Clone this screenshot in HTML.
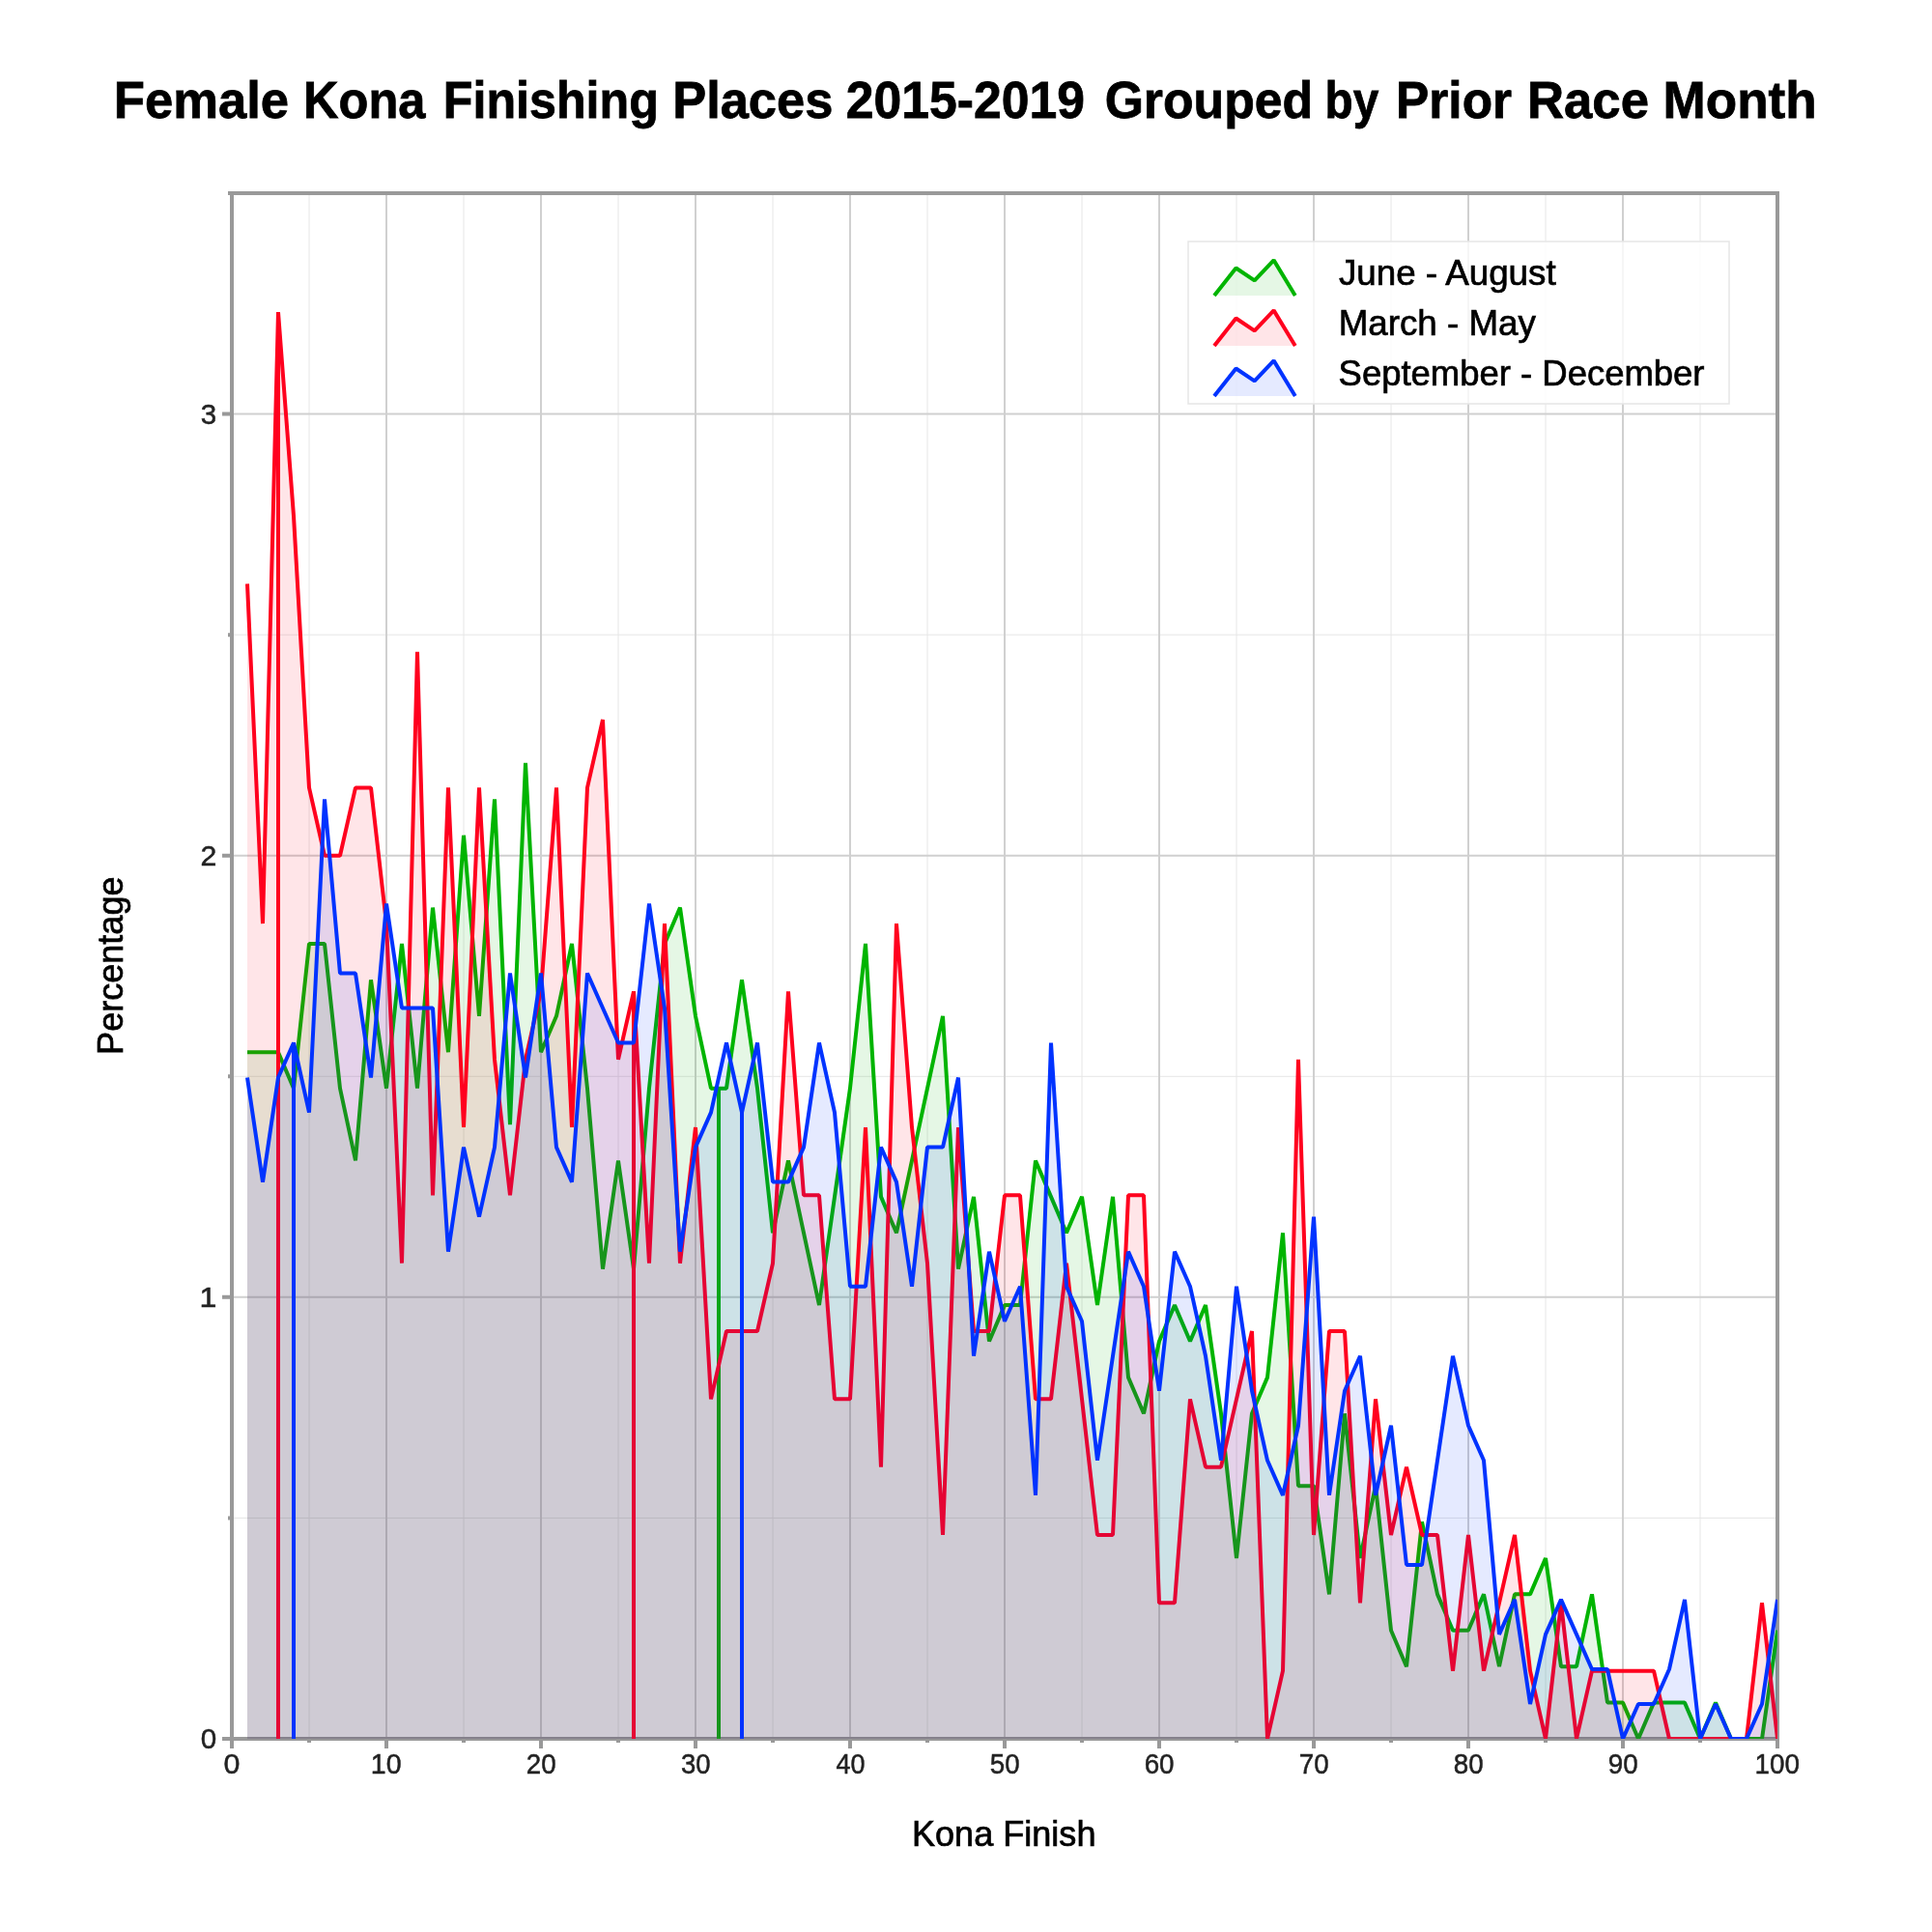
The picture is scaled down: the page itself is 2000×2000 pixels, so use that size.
<!DOCTYPE html>
<html><head><meta charset="utf-8"><title>Female Kona Finishing Places</title>
<style>
html,body{margin:0;padding:0;background:#fff;}
body{width:2000px;height:2000px;overflow:hidden;}
svg{display:block;will-change:transform;}
text{font-family:"Liberation Sans",sans-serif;}
</style></head><body>
<svg xmlns="http://www.w3.org/2000/svg" width="2000" height="2000" viewBox="0 0 2000 2000">
<rect x="0" y="0" width="2000" height="2000" fill="#ffffff"/>
<defs><clipPath id="plot"><rect x="240" y="200" width="1600" height="1600"/></clipPath></defs>

<path d="M320 200V1800M480 200V1800M640 200V1800M800 200V1800M960 200V1800M1120 200V1800M1280 200V1800M1440 200V1800M1600 200V1800M1760 200V1800M240 1571.43H1840M240 1114.29H1840M240 657.14H1840" stroke="#e6e6e6" stroke-width="1" fill="none"/>
<path d="M400 200V1800M560 200V1800M720 200V1800M880 200V1800M1040 200V1800M1200 200V1800M1360 200V1800M1520 200V1800M1680 200V1800M240 1342.86H1840M240 885.71H1840M240 428.57H1840" stroke="#d0d0d0" stroke-width="2" fill="none"/>
<path d="M236 200H1842M240 198V1810M1840 198V1810M230 1800H1842" stroke="#999999" stroke-width="4" fill="none"/>
<path d="M400 1800V1810M560 1800V1810M720 1800V1810M880 1800V1810M1040 1800V1810M1200 1800V1810M1360 1800V1810M1520 1800V1810M1680 1800V1810M230 1342.86H240M230 885.71H240M230 428.57H240" stroke="#999999" stroke-width="4" fill="none"/>
<path d="M320 1800V1804M480 1800V1804M640 1800V1804M800 1800V1804M960 1800V1804M1120 1800V1804M1280 1800V1804M1440 1800V1804M1600 1800V1804M1760 1800V1804M236 1571.43H240M236 1114.29H240M236 657.14H240" stroke="#999999" stroke-width="4" fill="none"/>
<g clip-path="url(#plot)">
<path d="M256 1800 L256 1089.22 L272 1089.22 L288 1089.22 L304 1126.63 L320 976.99 L336 976.99 L352 1126.63 L368 1201.45 L384 1014.4 L400 1126.63 L416 976.99 L432 1126.63 L448 939.58 L464 1089.22 L480 864.77 L496 1051.81 L512 827.36 L528 1164.04 L544 789.95 L560 1089.22 L576 1051.81 L592 976.99 L608 1126.63 L624 1313.68 L640 1201.45 L656 1313.68 L672 1126.63 L688 976.99 L704 939.58 L720 1051.81 L736 1126.63 L752 1126.63 L768 1014.4 L784 1126.63 L800 1276.27 L816 1201.45 L832 1276.27 L848 1351.09 L864 1238.86 L880 1126.63 L896 976.99 L912 1238.86 L928 1276.27 L944 1201.45 L960 1126.63 L976 1051.81 L992 1313.68 L1008 1238.86 L1024 1388.5 L1040 1351.09 L1056 1351.09 L1072 1201.45 L1088 1238.86 L1104 1276.27 L1120 1238.86 L1136 1351.09 L1152 1238.86 L1168 1425.91 L1184 1463.32 L1200 1388.5 L1216 1351.09 L1232 1388.5 L1248 1351.09 L1264 1463.32 L1280 1612.95 L1296 1463.32 L1312 1425.91 L1328 1276.27 L1344 1538.13 L1360 1538.13 L1376 1650.36 L1392 1463.32 L1408 1612.95 L1424 1538.13 L1440 1687.77 L1456 1725.18 L1472 1575.54 L1488 1650.36 L1504 1687.77 L1520 1687.77 L1536 1650.36 L1552 1725.18 L1568 1650.36 L1584 1650.36 L1600 1612.95 L1616 1725.18 L1632 1725.18 L1648 1650.36 L1664 1762.59 L1680 1762.59 L1696 1800 L1712 1762.59 L1728 1762.59 L1744 1762.59 L1760 1800 L1776 1762.59 L1792 1800 L1808 1800 L1824 1800 L1840 1687.77 L1840 1800 Z" fill="#00b400" fill-opacity="0.1" stroke="none"/>
<path d="M256 1089.22 L272 1089.22 L288 1089.22 L304 1126.63 L320 976.99 L336 976.99 L352 1126.63 L368 1201.45 L384 1014.4 L400 1126.63 L416 976.99 L432 1126.63 L448 939.58 L464 1089.22 L480 864.77 L496 1051.81 L512 827.36 L528 1164.04 L544 789.95 L560 1089.22 L576 1051.81 L592 976.99 L608 1126.63 L624 1313.68 L640 1201.45 L656 1313.68 L672 1126.63 L688 976.99 L704 939.58 L720 1051.81 L736 1126.63 L752 1126.63 L768 1014.4 L784 1126.63 L800 1276.27 L816 1201.45 L832 1276.27 L848 1351.09 L864 1238.86 L880 1126.63 L896 976.99 L912 1238.86 L928 1276.27 L944 1201.45 L960 1126.63 L976 1051.81 L992 1313.68 L1008 1238.86 L1024 1388.5 L1040 1351.09 L1056 1351.09 L1072 1201.45 L1088 1238.86 L1104 1276.27 L1120 1238.86 L1136 1351.09 L1152 1238.86 L1168 1425.91 L1184 1463.32 L1200 1388.5 L1216 1351.09 L1232 1388.5 L1248 1351.09 L1264 1463.32 L1280 1612.95 L1296 1463.32 L1312 1425.91 L1328 1276.27 L1344 1538.13 L1360 1538.13 L1376 1650.36 L1392 1463.32 L1408 1612.95 L1424 1538.13 L1440 1687.77 L1456 1725.18 L1472 1575.54 L1488 1650.36 L1504 1687.77 L1520 1687.77 L1536 1650.36 L1552 1725.18 L1568 1650.36 L1584 1650.36 L1600 1612.95 L1616 1725.18 L1632 1725.18 L1648 1650.36 L1664 1762.59 L1680 1762.59 L1696 1800 L1712 1762.59 L1728 1762.59 L1744 1762.59 L1760 1800 L1776 1762.59 L1792 1800 L1808 1800 L1824 1800 L1840 1687.77" fill="none" stroke="#00b400" stroke-width="4" stroke-linejoin="bevel"/>
<path d="M744 1126.63 V1800" fill="none" stroke="#00b400" stroke-width="4"/>
<path d="M256 1800 L256 604.4 L272 956.04 L288 323.08 L304 534.07 L320 815.38 L336 885.71 L352 885.71 L368 815.38 L384 815.38 L400 956.04 L416 1307.69 L432 674.73 L448 1237.36 L464 815.38 L480 1167.03 L496 815.38 L512 1096.7 L528 1237.36 L544 1096.7 L560 1026.37 L576 815.38 L592 1167.03 L608 815.38 L624 745.05 L640 1096.7 L656 1026.37 L672 1307.69 L688 956.04 L704 1307.69 L720 1167.03 L736 1448.35 L752 1378.02 L768 1378.02 L784 1378.02 L800 1307.69 L816 1026.37 L832 1237.36 L848 1237.36 L864 1448.35 L880 1448.35 L896 1167.03 L912 1518.68 L928 956.04 L944 1167.03 L960 1307.69 L976 1589.01 L992 1167.03 L1008 1378.02 L1024 1378.02 L1040 1237.36 L1056 1237.36 L1072 1448.35 L1088 1448.35 L1104 1307.69 L1120 1448.35 L1136 1589.01 L1152 1589.01 L1168 1237.36 L1184 1237.36 L1200 1659.34 L1216 1659.34 L1232 1448.35 L1248 1518.68 L1264 1518.68 L1280 1448.35 L1296 1378.02 L1312 1800 L1328 1729.67 L1344 1096.7 L1360 1589.01 L1376 1378.02 L1392 1378.02 L1408 1659.34 L1424 1448.35 L1440 1589.01 L1456 1518.68 L1472 1589.01 L1488 1589.01 L1504 1729.67 L1520 1589.01 L1536 1729.67 L1552 1659.34 L1568 1589.01 L1584 1729.67 L1600 1800 L1616 1659.34 L1632 1800 L1648 1729.67 L1664 1729.67 L1680 1729.67 L1696 1729.67 L1712 1729.67 L1728 1800 L1744 1800 L1760 1800 L1776 1800 L1792 1800 L1808 1800 L1824 1659.34 L1840 1800 L1840 1800 Z" fill="#ff001e" fill-opacity="0.1" stroke="none"/>
<path d="M256 604.4 L272 956.04 L288 323.08 L304 534.07 L320 815.38 L336 885.71 L352 885.71 L368 815.38 L384 815.38 L400 956.04 L416 1307.69 L432 674.73 L448 1237.36 L464 815.38 L480 1167.03 L496 815.38 L512 1096.7 L528 1237.36 L544 1096.7 L560 1026.37 L576 815.38 L592 1167.03 L608 815.38 L624 745.05 L640 1096.7 L656 1026.37 L672 1307.69 L688 956.04 L704 1307.69 L720 1167.03 L736 1448.35 L752 1378.02 L768 1378.02 L784 1378.02 L800 1307.69 L816 1026.37 L832 1237.36 L848 1237.36 L864 1448.35 L880 1448.35 L896 1167.03 L912 1518.68 L928 956.04 L944 1167.03 L960 1307.69 L976 1589.01 L992 1167.03 L1008 1378.02 L1024 1378.02 L1040 1237.36 L1056 1237.36 L1072 1448.35 L1088 1448.35 L1104 1307.69 L1120 1448.35 L1136 1589.01 L1152 1589.01 L1168 1237.36 L1184 1237.36 L1200 1659.34 L1216 1659.34 L1232 1448.35 L1248 1518.68 L1264 1518.68 L1280 1448.35 L1296 1378.02 L1312 1800 L1328 1729.67 L1344 1096.7 L1360 1589.01 L1376 1378.02 L1392 1378.02 L1408 1659.34 L1424 1448.35 L1440 1589.01 L1456 1518.68 L1472 1589.01 L1488 1589.01 L1504 1729.67 L1520 1589.01 L1536 1729.67 L1552 1659.34 L1568 1589.01 L1584 1729.67 L1600 1800 L1616 1659.34 L1632 1800 L1648 1729.67 L1664 1729.67 L1680 1729.67 L1696 1729.67 L1712 1729.67 L1728 1800 L1744 1800 L1760 1800 L1776 1800 L1792 1800 L1808 1800 L1824 1659.34 L1840 1800" fill="none" stroke="#ff001e" stroke-width="4" stroke-linejoin="bevel"/>
<path d="M288 323.08 V1800" fill="none" stroke="#ff001e" stroke-width="4"/>
<path d="M656 1026.37 V1800" fill="none" stroke="#ff001e" stroke-width="4"/>
<path d="M256 1800 L256 1115.55 L272 1223.62 L288 1115.55 L304 1079.52 L320 1151.57 L336 827.36 L352 1007.47 L368 1007.47 L384 1115.55 L400 935.43 L416 1043.5 L432 1043.5 L448 1043.5 L464 1295.67 L480 1187.59 L496 1259.64 L512 1187.59 L528 1007.47 L544 1115.55 L560 1007.47 L576 1187.59 L592 1223.62 L608 1007.47 L624 1043.5 L640 1079.52 L656 1079.52 L672 935.43 L688 1043.5 L704 1295.67 L720 1187.59 L736 1151.57 L752 1079.52 L768 1151.57 L784 1079.52 L800 1223.62 L816 1223.62 L832 1187.59 L848 1079.52 L864 1151.57 L880 1331.69 L896 1331.69 L912 1187.59 L928 1223.62 L944 1331.69 L960 1187.59 L976 1187.59 L992 1115.55 L1008 1403.74 L1024 1295.67 L1040 1367.71 L1056 1331.69 L1072 1547.83 L1088 1079.52 L1104 1331.69 L1120 1367.71 L1136 1511.81 L1152 1403.74 L1168 1295.67 L1184 1331.69 L1200 1439.76 L1216 1295.67 L1232 1331.69 L1248 1403.74 L1264 1511.81 L1280 1331.69 L1296 1439.76 L1312 1511.81 L1328 1547.83 L1344 1475.79 L1360 1259.64 L1376 1547.83 L1392 1439.76 L1408 1403.74 L1424 1547.83 L1440 1475.79 L1456 1619.88 L1472 1619.88 L1488 1511.81 L1504 1403.74 L1520 1475.79 L1536 1511.81 L1552 1691.93 L1568 1655.9 L1584 1763.98 L1600 1691.93 L1616 1655.9 L1632 1691.93 L1648 1727.95 L1664 1727.95 L1680 1800 L1696 1763.98 L1712 1763.98 L1728 1727.95 L1744 1655.9 L1760 1800 L1776 1763.98 L1792 1800 L1808 1800 L1824 1763.98 L1840 1655.9 L1840 1800 Z" fill="#0033ff" fill-opacity="0.1" stroke="none"/>
<path d="M256 1115.55 L272 1223.62 L288 1115.55 L304 1079.52 L320 1151.57 L336 827.36 L352 1007.47 L368 1007.47 L384 1115.55 L400 935.43 L416 1043.5 L432 1043.5 L448 1043.5 L464 1295.67 L480 1187.59 L496 1259.64 L512 1187.59 L528 1007.47 L544 1115.55 L560 1007.47 L576 1187.59 L592 1223.62 L608 1007.47 L624 1043.5 L640 1079.52 L656 1079.52 L672 935.43 L688 1043.5 L704 1295.67 L720 1187.59 L736 1151.57 L752 1079.52 L768 1151.57 L784 1079.52 L800 1223.62 L816 1223.62 L832 1187.59 L848 1079.52 L864 1151.57 L880 1331.69 L896 1331.69 L912 1187.59 L928 1223.62 L944 1331.69 L960 1187.59 L976 1187.59 L992 1115.55 L1008 1403.74 L1024 1295.67 L1040 1367.71 L1056 1331.69 L1072 1547.83 L1088 1079.52 L1104 1331.69 L1120 1367.71 L1136 1511.81 L1152 1403.74 L1168 1295.67 L1184 1331.69 L1200 1439.76 L1216 1295.67 L1232 1331.69 L1248 1403.74 L1264 1511.81 L1280 1331.69 L1296 1439.76 L1312 1511.81 L1328 1547.83 L1344 1475.79 L1360 1259.64 L1376 1547.83 L1392 1439.76 L1408 1403.74 L1424 1547.83 L1440 1475.79 L1456 1619.88 L1472 1619.88 L1488 1511.81 L1504 1403.74 L1520 1475.79 L1536 1511.81 L1552 1691.93 L1568 1655.9 L1584 1763.98 L1600 1691.93 L1616 1655.9 L1632 1691.93 L1648 1727.95 L1664 1727.95 L1680 1800 L1696 1763.98 L1712 1763.98 L1728 1727.95 L1744 1655.9 L1760 1800 L1776 1763.98 L1792 1800 L1808 1800 L1824 1763.98 L1840 1655.9" fill="none" stroke="#0033ff" stroke-width="4" stroke-linejoin="bevel"/>
<path d="M304 1079.52 V1800" fill="none" stroke="#0033ff" stroke-width="4"/>
<path d="M768 1151.57 V1800" fill="none" stroke="#0033ff" stroke-width="4"/>
</g>
<rect x="1230" y="250" width="560" height="168" fill="#ffffff" fill-opacity="0.8" stroke="#e6e6e6" stroke-width="1.5"/>
<path d="M1257 306 L1279.5 277.5 L1298.7 290.4 L1318.6 269.4 L1340.8 306Z" fill="#00b400" fill-opacity="0.1"/><path d="M1257 306 L1279.5 277.5 L1298.7 290.4 L1318.6 269.4 L1340.8 306" fill="none" stroke="#00b400" stroke-width="4" stroke-linejoin="bevel"/>
<path d="M1257 358 L1279.5 329.5 L1298.7 342.4 L1318.6 321.4 L1340.8 358Z" fill="#ff001e" fill-opacity="0.1"/><path d="M1257 358 L1279.5 329.5 L1298.7 342.4 L1318.6 321.4 L1340.8 358" fill="none" stroke="#ff001e" stroke-width="4" stroke-linejoin="bevel"/>
<path d="M1257 410 L1279.5 381.5 L1298.7 394.4 L1318.6 373.4 L1340.8 410Z" fill="#0033ff" fill-opacity="0.1"/><path d="M1257 410 L1279.5 381.5 L1298.7 394.4 L1318.6 373.4 L1340.8 410" fill="none" stroke="#0033ff" stroke-width="4" stroke-linejoin="bevel"/>
<text transform="translate(1385.94 294.70) scale(1.0043 1)" font-size="36.6" fill="#000" stroke="#000" stroke-width="0.7">June - August</text>
<text transform="translate(1385.64 346.90) scale(1.0044 1)" font-size="36.6" fill="#000" stroke="#000" stroke-width="0.7">March - May</text>
<text transform="translate(1385.61 398.80) scale(0.9966 1)" font-size="36.6" fill="#000" stroke="#000" stroke-width="0.7">September - December</text>
<text transform="translate(943.99 1911.00) scale(0.9856 1)" font-size="36.6" fill="#000" stroke="#000" stroke-width="0.7">Kona Finish</text>
<text transform="translate(126.50 1091.91) rotate(-90) scale(0.9855 1)" font-size="36.6" fill="#000" stroke="#000" stroke-width="0.7">Percentage</text>
<text transform="translate(231.46 1836.20) scale(1.0153 1)" font-size="29.9" fill="#222" stroke="#222" stroke-width="0.5">0</text>
<text transform="translate(383.83 1836.20) scale(0.9555 1)" font-size="29.9" fill="#222" stroke="#222" stroke-width="0.5">10</text>
<text transform="translate(544.71 1836.20) scale(0.9280 1)" font-size="29.9" fill="#222" stroke="#222" stroke-width="0.5">20</text>
<text transform="translate(704.97 1836.20) scale(0.9200 1)" font-size="29.9" fill="#222" stroke="#222" stroke-width="0.5">30</text>
<text transform="translate(865.54 1836.20) scale(0.9022 1)" font-size="29.9" fill="#222" stroke="#222" stroke-width="0.5">40</text>
<text transform="translate(1024.80 1836.20) scale(0.9253 1)" font-size="29.9" fill="#222" stroke="#222" stroke-width="0.5">50</text>
<text transform="translate(1184.65 1836.20) scale(0.9299 1)" font-size="29.9" fill="#222" stroke="#222" stroke-width="0.5">60</text>
<text transform="translate(1344.69 1836.20) scale(0.9286 1)" font-size="29.9" fill="#222" stroke="#222" stroke-width="0.5">70</text>
<text transform="translate(1504.73 1836.20) scale(0.9273 1)" font-size="29.9" fill="#222" stroke="#222" stroke-width="0.5">80</text>
<text transform="translate(1664.71 1836.20) scale(0.9280 1)" font-size="29.9" fill="#222" stroke="#222" stroke-width="0.5">90</text>
<text transform="translate(1816.48 1836.20) scale(0.9314 1)" font-size="29.9" fill="#222" stroke="#222" stroke-width="0.5">100</text>
<text transform="translate(207.69 1810.20) scale(0.9879 1)" font-size="29.9" fill="#222" stroke="#222" stroke-width="0.5">0</text>
<text transform="translate(206.52 1353.06) scale(1.0749 1)" font-size="29.9" fill="#222" stroke="#222" stroke-width="0.5">1</text>
<text transform="translate(207.56 895.91) scale(1.0124 1)" font-size="29.9" fill="#222" stroke="#222" stroke-width="0.5">2</text>
<text transform="translate(207.86 438.77) scale(0.9855 1)" font-size="29.9" fill="#222" stroke="#222" stroke-width="0.5">3</text>
<text transform="translate(117.84 122.00) scale(0.9744 1)" font-size="54" font-weight="bold" fill="#000" stroke="#000" stroke-width="0.8">Female</text>
<text transform="translate(314.06 122.00) scale(0.9359 1)" font-size="54" font-weight="bold" fill="#000" stroke="#000" stroke-width="0.8">Kona</text>
<text transform="translate(458.78 122.00) scale(0.9299 1)" font-size="54" font-weight="bold" fill="#000" stroke="#000" stroke-width="0.8">Finishing</text>
<text transform="translate(696.15 122.00) scale(0.9716 1)" font-size="54" font-weight="bold" fill="#000" stroke="#000" stroke-width="0.8">Places</text>
<text transform="translate(875.74 122.00) scale(0.9573 1)" font-size="54" font-weight="bold" fill="#000" stroke="#000" stroke-width="0.8">2015-2019</text>
<text transform="translate(1143.64 122.00) scale(0.9577 1)" font-size="54" font-weight="bold" fill="#000" stroke="#000" stroke-width="0.8">Grouped</text>
<text transform="translate(1371.54 122.00) scale(0.8835 1)" font-size="54" font-weight="bold" fill="#000" stroke="#000" stroke-width="0.8">by</text>
<text transform="translate(1445.11 122.00) scale(0.9516 1)" font-size="54" font-weight="bold" fill="#000" stroke="#000" stroke-width="0.8">Prior</text>
<text transform="translate(1580.93 122.00) scale(0.9763 1)" font-size="54" font-weight="bold" fill="#000" stroke="#000" stroke-width="0.8">Race</text>
<text transform="translate(1721.62 122.00) scale(0.9821 1)" font-size="54" font-weight="bold" fill="#000" stroke="#000" stroke-width="0.8">Month</text>
</svg>
</body></html>
